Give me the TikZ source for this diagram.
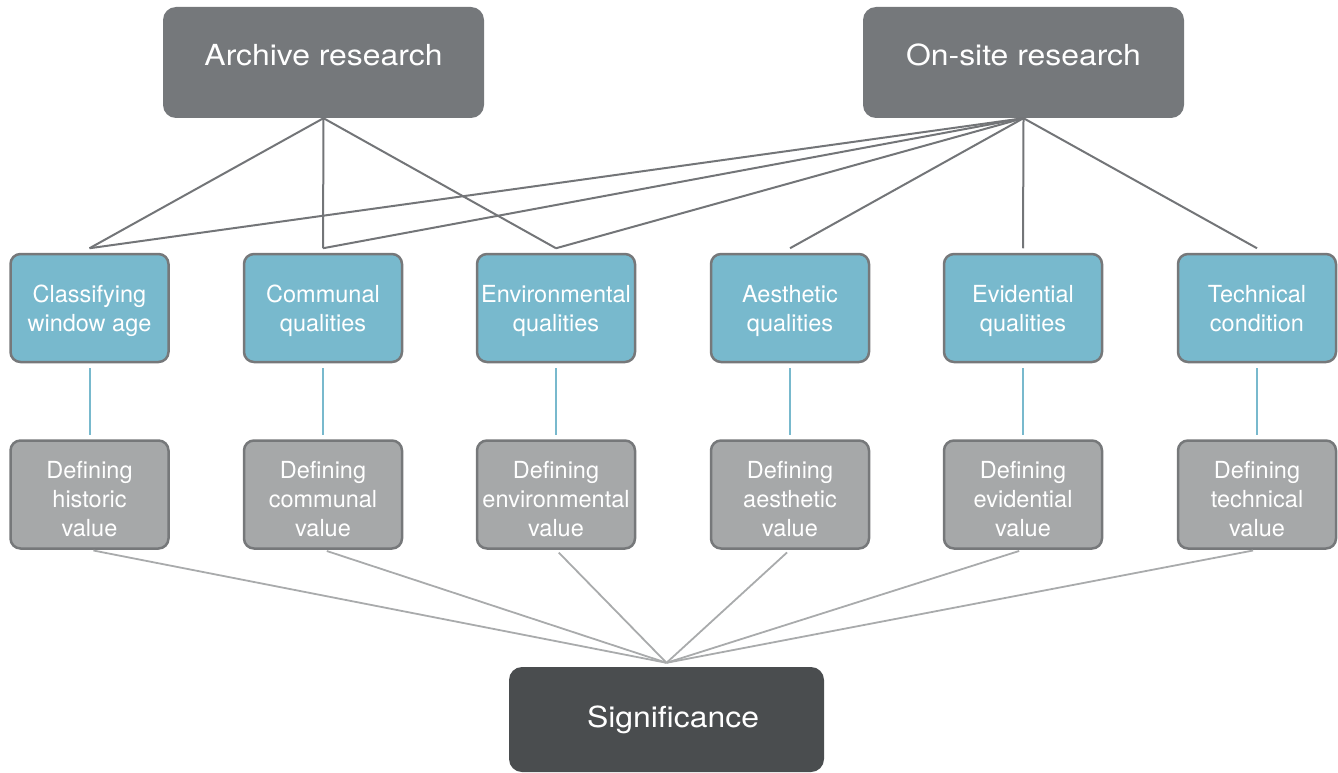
\documentclass[tikz,border=0pt]{standalone}
\usepackage{fontspec}
\setmainfont{TeX Gyre Heros}
\newfontfamily\bigfont[FakeStretch=1.1]{TeX Gyre Heros}
\definecolor{topgray}{HTML}{75787B}
\definecolor{siggray}{HTML}{4A4D4F}
\definecolor{blueq}{HTML}{78B9CD}
\definecolor{grayv}{HTML}{A6A8A9}
\definecolor{bordergray}{HTML}{76787A}
\definecolor{topline}{HTML}{737578}
\definecolor{botline}{HTML}{A9ABAC}
\newcommand{\btxt}[2]{\rule{0pt}{23pt}#1\\#2\rule[-6pt]{0pt}{0pt}}
\newcommand{\gtxt}[3]{\rule{0pt}{27pt}#1\\#2\\#3}
\begin{document}
\begin{tikzpicture}[x=1pt,y=-1pt,
  topbox/.style={rectangle, rounded corners=13pt, fill=topgray, minimum width=321pt, minimum height=111pt,
    text=white, font=\bigfont\fontsize{29}{34}\selectfont, text height=20pt, text depth=14pt, inner sep=0pt},
  sigbox/.style={rectangle, rounded corners=13pt, fill=siggray, minimum width=315pt, minimum height=105pt,
    text=white, font=\bigfont\fontsize{29}{34}\selectfont, text height=20pt, text depth=5pt, inner sep=0pt},
  qbox/.style={rectangle, rounded corners=10pt, fill=blueq, draw=bordergray, line width=2.5pt,
    minimum width=158pt, minimum height=108pt, text=white, align=center,
    font=\fontsize{23.5}{29}\selectfont, inner sep=0pt},
  vbox/.style={qbox, fill=grayv},
  tline/.style={draw=topline, line width=2pt},
  bline/.style={draw=blueq, line width=2pt, shorten <=5pt, shorten >=4pt},
  gline/.style={draw=botline, line width=1.8pt, shorten <=4pt}
]
\useasboundingbox (0,0) rectangle (1338,773);

\node[topbox] (arch) at (323.5,62.5) {Archive research};
\node[topbox] (site) at (1023.5,62.5) {On-site research};

\node[qbox] (q1) at (89.5,308) {\btxt{Classifying}{window age}};
\node[qbox] (q2) at (323,308) {\btxt{Communal}{qualities}};
\node[qbox] (q3) at (556,308) {\btxt{Environmental}{qualities}};
\node[qbox] (q4) at (790,308) {\btxt{Aesthetic}{qualities}};
\node[qbox] (q5) at (1023,308) {\btxt{Evidential}{qualities}};
\node[qbox] (q6) at (1257,308) {\btxt{Technical}{condition}};

\node[vbox] (v1) at (89.5,494.5) {\gtxt{Defining}{historic}{value}};
\node[vbox] (v2) at (323,494.5) {\gtxt{Defining}{communal}{value}};
\node[vbox] (v3) at (556,494.5) {\gtxt{Defining}{environmental}{value}};
\node[vbox] (v4) at (790,494.5) {\gtxt{Defining}{aesthetic}{value}};
\node[vbox] (v5) at (1023,494.5) {\gtxt{Defining}{evidential}{value}};
\node[vbox] (v6) at (1257,494.5) {\gtxt{Defining}{technical}{value}};

\node[sigbox] (sig) at (666.5,719.5) {\hspace*{13pt}Significance};

\foreach \q in {q1,q2,q3,q4,q5,q6}{
  \coordinate (\q t) at ([yshift=4.5pt]\q.north);
}
\coordinate (sigt) at ([yshift=4pt]sig.north);

\foreach \q in {q1,q2,q3}{
  \draw[tline] (arch.south) -- (\q t);
}
\foreach \q in {q1,q2,q3,q4,q5,q6}{
  \draw[tline] (site.south) -- (\q t);
}
\foreach \i in {1,...,6}{
  \draw[bline] (q\i.south) -- (v\i.north);
  \draw[gline] (v\i.south) -- (sigt);
}
\end{tikzpicture}
\end{document}
